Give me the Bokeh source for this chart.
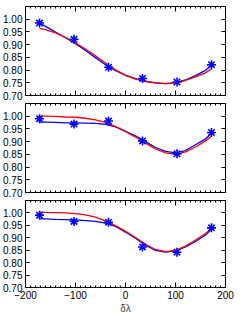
from bokeh.plotting import figure
from bokeh.layouts import column
from bokeh.models import Range1d, FixedTicker, LinearAxis, NumeralTickFormatter
from bokeh.embed import file_html
from bokeh.resources import INLINE

# observed points (x positions shared by all panels)
x_pts = [-172, -103, -34, 34, 103, 172]
y_pts_1 = [0.985, 0.921, 0.811, 0.767, 0.753, 0.821]
y_pts_2 = [0.990, 0.969, 0.981, 0.903, 0.852, 0.936]
y_pts_3 = [0.991, 0.966, 0.962, 0.863, 0.842, 0.940]

# fitted curves
x_curve = [-172, -160, -140, -120, -100, -80, -60, -40, -20, 0,
           20, 40, 60, 80, 100, 120, 140, 160, 172]
blue_1 = [0.985, 0.972, 0.949, 0.927, 0.904, 0.877, 0.849, 0.821, 0.798, 0.780,
          0.766, 0.756, 0.750, 0.747, 0.751, 0.761, 0.778, 0.799, 0.819]
red_1 = [0.964, 0.959, 0.946, 0.928, 0.907, 0.883, 0.856, 0.828, 0.801, 0.779,
         0.764, 0.755, 0.750, 0.747, 0.750, 0.759, 0.773, 0.789, 0.805]
blue_2 = [0.977, 0.977, 0.976, 0.974, 0.974, 0.973, 0.972, 0.968, 0.958, 0.941,
          0.923, 0.900, 0.877, 0.862, 0.856, 0.865, 0.888, 0.911, 0.932]
red_2 = [1.000, 1.000, 0.999, 0.997, 0.996, 0.992, 0.986, 0.976, 0.959, 0.939,
         0.918, 0.894, 0.871, 0.856, 0.851, 0.860, 0.879, 0.903, 0.921]
blue_3 = [0.976, 0.976, 0.974, 0.973, 0.972, 0.969, 0.966, 0.959, 0.946, 0.923,
          0.898, 0.870, 0.849, 0.842, 0.847, 0.863, 0.885, 0.911, 0.934]
red_3 = [1.003, 1.002, 1.001, 1.000, 0.997, 0.992, 0.983, 0.968, 0.949, 0.926,
         0.901, 0.874, 0.853, 0.844, 0.849, 0.867, 0.891, 0.917, 0.937]

x_ticks = [-200, -100, 0, 100, 200]
x_tick_labels = ["\u2212200", "\u2212100", "0", "100", "200"]
y_ticks = [0.70, 0.75, 0.80, 0.85, 0.90, 0.95, 1.00]

FONT = "Liberation Sans"
W = 235


def style_axis(ax, show_labels, ticker):
    ax.ticker = ticker
    ax.major_tick_in = 5
    ax.major_tick_out = 0
    ax.minor_tick_in = 2
    ax.minor_tick_out = 0
    ax.axis_line_color = "black"
    ax.major_tick_line_color = "black"
    ax.minor_tick_line_color = "black"
    ax.major_label_text_font = FONT
    if show_labels:
        ax.major_label_text_color = "black"
        ax.major_label_text_font_size = "10px"
        ax.major_label_standoff = 3
    else:
        ax.major_label_text_color = None
        ax.major_label_text_font_size = "0px"
        ax.major_label_standoff = 0


def make_panel(blue, red, pts, height, top, bottom, last):
    p = figure(width=W, height=height, output_backend="svg", toolbar_location=None,
               x_range=Range1d(-200, 200), y_range=Range1d(0.70, 1.05),
               x_axis_location=None, y_axis_location=None,
               min_border_left=22, min_border_right=10,
               min_border_top=top, min_border_bottom=bottom)
    p.grid.visible = False
    p.outline_line_color = "black"
    p.background_fill_color = "white"
    p.border_fill_color = "white"

    xb = LinearAxis()
    style_axis(xb, last, FixedTicker(ticks=x_ticks, minor_ticks=list(range(-200, 201, 10))))
    if last:
        xb.major_label_overrides = dict(zip(x_ticks, x_tick_labels))
        xb.axis_label = "\u03b4\u03bb"
        xb.axis_label_text_font = FONT
        xb.axis_label_text_font_size = "10px"
        xb.axis_label_text_font_style = "normal"
        xb.axis_label_standoff = 1
    p.add_layout(xb, "below")
    xa = LinearAxis()
    style_axis(xa, False, FixedTicker(ticks=x_ticks, minor_ticks=list(range(-200, 201, 10))))
    p.add_layout(xa, "above")

    yl = LinearAxis()
    style_axis(yl, True, FixedTicker(ticks=y_ticks, minor_ticks=[]))
    yl.major_tick_in = 4
    yl.formatter = NumeralTickFormatter(format="0.00")
    p.add_layout(yl, "left")
    yr = LinearAxis()
    style_axis(yr, False, FixedTicker(ticks=y_ticks, minor_ticks=[]))
    yr.major_tick_in = 4
    p.add_layout(yr, "right")

    p.line(x_curve, blue, line_color="#0000ff", line_width=1.3)
    p.line(x_curve, red, line_color="#ff0000", line_width=1.3)
    p.scatter(x_pts, pts, marker="asterisk", size=9, line_color="#0000ff", line_width=1.6)
    return p


p1 = make_panel(blue_1, red_1, y_pts_1, 102, 6, 7, False)
p2 = make_panel(blue_2, red_2, y_pts_2, 97, 1, 7, False)
p3 = make_panel(blue_3, red_3, y_pts_3, 117, 1, 27, True)

p = column(p1, p2, p3, spacing=0)
open("out.html", "w").write(file_html(p, INLINE))
